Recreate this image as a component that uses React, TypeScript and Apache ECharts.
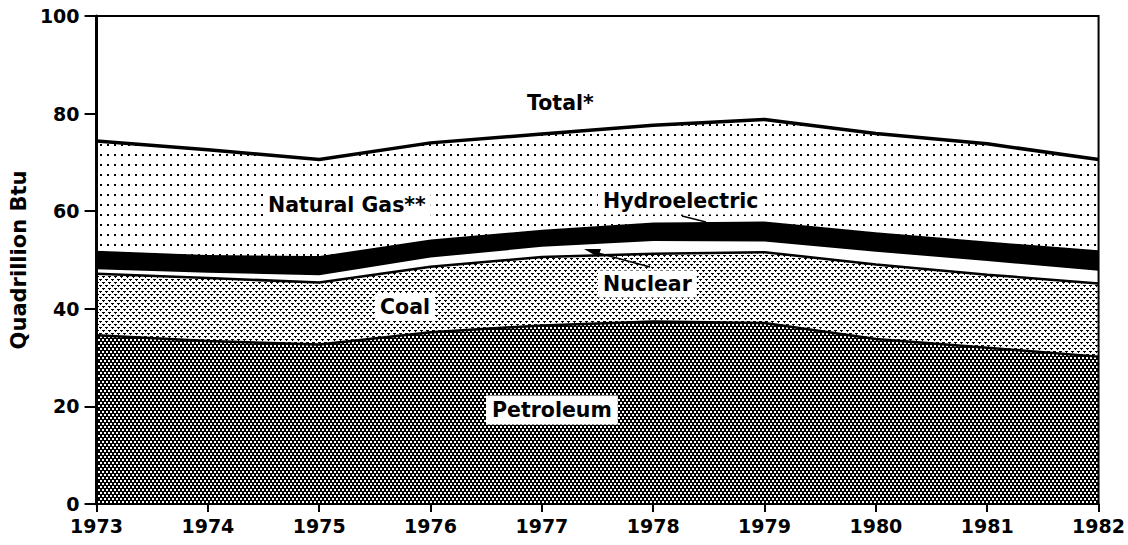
import { useEffect, useRef } from 'react';
import * as echarts from 'echarts';

const years = ['1973', '1974', '1975', '1976', '1977', '1978', '1979', '1980', '1981', '1982'];
const petroleum = [34.6, 33.4, 32.7, 35.2, 36.6, 37.4, 37.1, 33.8, 32.0, 30.2];
const coal = [12.6, 12.9, 12.7, 13.4, 14.0, 13.9, 14.5, 15.3, 15.0, 15.0];
const nuclear = [0.9, 1.1, 1.5, 1.9, 2.1, 2.6, 2.2, 2.6, 2.8, 2.6];
const hydroelectric = [3.8, 3.6, 3.9, 3.7, 3.5, 3.8, 4.1, 4.0, 4.0, 4.2];
const naturalGas = [22.5, 21.6, 19.8, 19.8, 19.6, 19.9, 20.9, 20.2, 20.0, 18.6];
const yMin = 0;
const yMax = 100;
const yStep = 20;

const FONT = '"DejaVu Sans", Verdana, sans-serif';

function tile(w: number, h: number, bg: string, fg: string, rects: number[][]) {
  const c = document.createElement('canvas');
  c.width = w;
  c.height = h;
  const ctx = c.getContext('2d')!;
  ctx.fillStyle = bg;
  ctx.fillRect(0, 0, w, h);
  ctx.fillStyle = fg;
  rects.forEach(([x, y, rw, rh]) => ctx.fillRect(x, y, rw, rh));
  return { image: c.toDataURL(), repeat: 'repeat', imageWidth: w, imageHeight: h } as any;
}

export default function App() {
  const ref = useRef<HTMLDivElement>(null);
  useEffect(() => {
    document.body.style.margin = '0';
    const chart = echarts.init(ref.current!, null, { renderer: 'svg' });
    const petroPattern = tile(4, 6, '#000', '#fff', [[0, 0, 2, 2], [2, 3, 2, 2]]);
    const coalPattern = tile(6, 6, '#fff', '#000', [[0, 0, 3, 1], [1, 1, 1, 1], [3, 3, 3, 1], [4, 4, 1, 1]]);
    const gasPattern = tile(7, 10, '#fff', '#000', [[2, 4, 2, 2]]);

    const base = {
      type: 'line',
      stack: 'total',
      symbol: 'none',
      showSymbol: false,
      smooth: false,
    };
    const label = (text: string, x: number, y: number, bg = true, pad: number[] = [3, 5]) => ({
      type: 'text',
      x,
      y,
      z: 20,
      style: {
        text,
        fill: '#000',
        font: `bold 20.5px ${FONT}`,
        align: 'left',
        verticalAlign: 'middle',
        backgroundColor: bg ? '#fff' : 'transparent',
        padding: pad,
      },
    });

    chart.setOption({
      animation: false,
      grid: {
        left: 95,
        right: 29,
        top: 16,
        bottom: 41,
        show: true,
        borderColor: '#000',
        borderWidth: 2,
        backgroundColor: 'transparent',
        z: 10,
      },
      xAxis: {
        type: 'category',
        data: years,
        boundaryGap: false,
        z: 10,
        axisLine: { lineStyle: { color: '#000', width: 2 } },
        axisTick: { show: true, inside: false, length: 8, interval: 0, lineStyle: { color: '#000', width: 2 } },
        axisLabel: { interval: 0, color: '#000', fontSize: 19, fontWeight: 'bold', fontFamily: FONT, margin: 12 },
        splitLine: { show: false },
      },
      yAxis: {
        type: 'value',
        min: yMin,
        max: yMax,
        interval: yStep,
        z: 10,
        name: 'Quadrillion Btu',
        nameLocation: 'middle',
        nameGap: 60,
        nameTextStyle: { color: '#000', fontSize: 21, fontWeight: 'bold', fontFamily: FONT },
        axisLine: { show: true, lineStyle: { color: '#000', width: 3 } },
        axisTick: { show: true, inside: false, length: 12, lineStyle: { color: '#000', width: 2 } },
        axisLabel: { color: '#000', fontSize: 19, fontWeight: 'bold', fontFamily: FONT, margin: 17 },
        splitLine: { show: false },
      },
      series: [
        {
          ...base,
          name: 'Petroleum',
          data: petroleum,
          z: 6,
          lineStyle: { color: '#000', width: 2.5 },
          areaStyle: { color: petroPattern, opacity: 1 },
        },
        {
          ...base,
          name: 'Coal',
          data: coal,
          z: 5,
          lineStyle: { color: '#000', width: 2.5 },
          areaStyle: { color: coalPattern, opacity: 1 },
        },
        {
          ...base,
          name: 'Nuclear',
          data: nuclear,
          z: 3,
          lineStyle: { width: 0, opacity: 0 },
          areaStyle: { color: '#fff', opacity: 1 },
        },
        {
          ...base,
          name: 'Hydroelectric',
          data: hydroelectric,
          z: 3,
          lineStyle: { color: '#000', width: 1 },
          areaStyle: { color: '#000', opacity: 1 },
        },
        {
          ...base,
          name: 'Natural Gas',
          data: naturalGas,
          z: 7,
          lineStyle: { color: '#000', width: 3.5 },
          areaStyle: { color: gasPattern, opacity: 1 },
        },
      ],
      graphic: [
        label('Total*', 527, 103, false, [0, 0]),
        label('Natural Gas**', 263, 205),
        label('Hydroelectric', 598, 201),
        label('Nuclear', 598, 284),
        label('Coal', 375, 307),
        label('Petroleum', 486, 410, true, [4, 6]),
        {
          type: 'line',
          z: 20,
          shape: { x1: 682, y1: 216, x2: 706, y2: 222 },
          style: { stroke: '#000', lineWidth: 1.5 },
        },
        {
          type: 'line',
          z: 20,
          shape: { x1: 650, y1: 267, x2: 598, y2: 253 },
          style: { stroke: '#000', lineWidth: 1.5 },
        },
        {
          type: 'polygon',
          z: 20,
          shape: { points: [[584, 249], [601, 249], [598, 257]] },
          style: { fill: '#000' },
        },
      ],
    });
    return () => chart.dispose();
  }, []);
  return <div ref={ref} style={{ width: 1128, height: 545 }} />;
}
